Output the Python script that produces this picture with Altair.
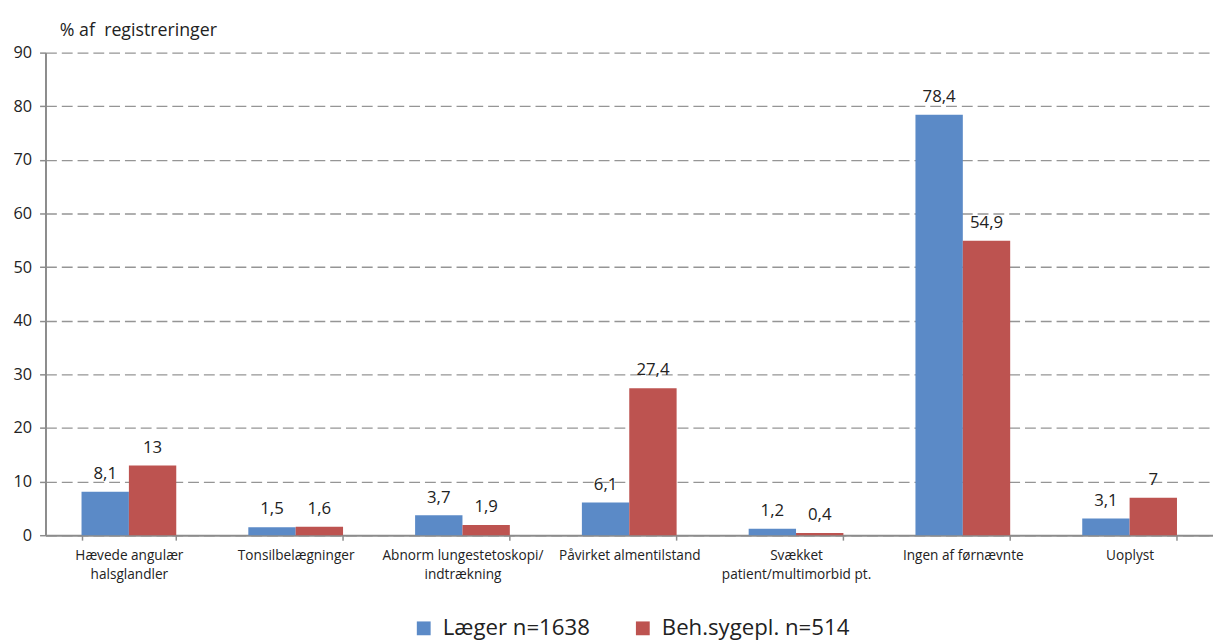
import altair as alt
import pandas as pd

categories = [
    "Hævede angulær\nhalsglandler",
    "Tonsilbelægninger",
    "Abnorm lungestetoskopi/\nindtrækning",
    "Påvirket almentilstand",
    "Svækket\npatient/multimorbid pt.",
    "Ingen af førnævnte",
    "Uoplyst",
]
series = ["Læger n=1638", "Beh.sygepl. n=514"]
laeger = [8.1, 1.5, 3.7, 6.1, 1.2, 78.4, 3.1]
beh = [13, 1.6, 1.9, 27.4, 0.4, 54.9, 7]
colors = ["#5B8AC7", "#BD5350"]
y_ticks = [0, 10, 20, 30, 40, 50, 60, 70, 80, 90]

rows = []
for s, vals in zip(series, [laeger, beh]):
    for c, v in zip(categories, vals):
        rows.append({"cat": c, "series": s, "value": v,
                     "label": ("%g" % v).replace(".", ",")})
df = pd.DataFrame(rows)

FONT = "Open Sans"
TXT = "#222222"
AX = "#8c8c8c"

x = alt.X(
    "cat:N", sort=categories,
    scale=alt.Scale(paddingInner=0.432, paddingOuter=0.216),
    axis=alt.Axis(
        title=None, labelAngle=0, labelExpr="split(datum.label, '\\n')",
        tickBand="extent", tickSize=5, tickColor=AX, tickWidth=1.5,
        domainColor=AX, domainWidth=2, labelFont=FONT, labelFontSize=13.8,
        labelColor=TXT, labelPadding=9, labelBaseline="top", labelLineHeight=19,
        labelLimit=300,
    ),
)
xo = alt.XOffset("series:N", sort=series, scale=alt.Scale(paddingInner=0))
y = alt.Y(
    "value:Q",
    scale=alt.Scale(domain=[0, 90], nice=False),
    axis=alt.Axis(
        values=y_ticks, title="% af\u00a0 registreringer", titleAngle=0,
        titleAlign="left", titleBaseline="alphabetic", titleX=14, titleY=-17,
        titleFont=FONT, titleFontSize=18, titleFontWeight="normal", titleColor=TXT,
        grid=True, gridDash=[11, 5], gridColor="#959595", gridWidth=1.4,
        domainColor=AX, domainWidth=2, tickColor=AX, tickSize=6, tickWidth=1.5,
        labelPadding=8, labelFont=FONT, labelFontSize=16.5, labelColor=TXT,
    ),
)

bars = alt.Chart(df).mark_bar().encode(
    x=x, xOffset=xo, y=y,
    color=alt.Color(
        "series:N", sort=series,
        scale=alt.Scale(domain=series, range=colors),
        legend=alt.Legend(
            title=None, orient="none", legendX=372, legendY=572,
            direction="horizontal", symbolType="square", symbolSize=196,
            symbolStrokeWidth=0, symbolOpacity=1, labelFontSize=22.5,
            labelFont=FONT, labelColor=TXT, columnPadding=42, labelOffset=8,
            padding=0, labelLimit=400,
        ),
    ),
)

labels = alt.Chart(df).mark_text(
    dy=-13, baseline="alphabetic", fontSize=17, font=FONT, color=TXT
).encode(x=x, xOffset=xo, y=y, text="label:N")

chart = alt.layer(bars, labels).properties(
    width=1183, height=489,
    autosize=alt.AutoSizeParams(type="none"),
    padding={"left": 38, "top": 41, "right": 0, "bottom": 104},
).configure_view(stroke=None)

chart.save("out.html", embed_options={"renderer": "svg", "actions": False})
